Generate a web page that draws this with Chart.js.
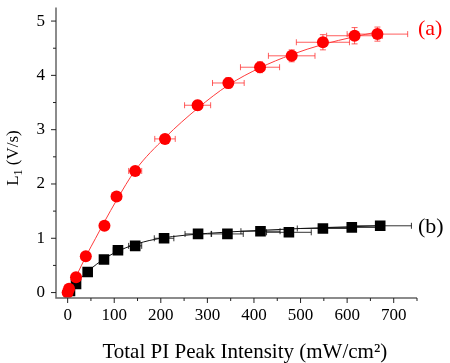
<!DOCTYPE html>
<html>
<head>
<meta charset="utf-8">
<script src="https://cdn.jsdelivr.net/npm/chart.js@4"></script>
<style>
  html, body { margin: 0; padding: 0; background: #fff; }
</style>
</head>
<body>
<canvas id="myChart" width="450" height="363"></canvas>
<script>
// series (a): red circles
const redX    = [0, 3, 18, 39, 79, 105, 145, 209, 279, 345, 413, 481, 548, 616, 665];
const redY    = [0.0, 0.07, 0.28, 0.67, 1.23, 1.77, 2.24, 2.83, 3.45, 3.86, 4.15, 4.36, 4.61, 4.73, 4.76];
const redXErr = [1, 1, 3, 5, 8, 10, 14, 22, 28, 34, 42, 50, 57, 60, 65];
const redYErr = [0.02, 0.02, 0.03, 0.04, 0.05, 0.06, 0.07, 0.08, 0.09, 0.1, 0.1, 0.11, 0.14, 0.15, 0.13];

// series (b): black squares
const blackX    = [5, 18, 43, 78, 108, 145, 207, 280, 343, 414, 475, 548, 610, 671];
const blackY    = [0.03, 0.16, 0.38, 0.61, 0.78, 0.86, 1.0, 1.08, 1.08, 1.13, 1.11, 1.18, 1.2, 1.23];
const blackXErr = [1, 2, 4, 7, 10, 14, 21, 28, 34, 42, 48, 55, 60, 67];
const blackYErr = [0.02, 0.02, 0.03, 0.03, 0.03, 0.04, 0.04, 0.04, 0.04, 0.04, 0.04, 0.05, 0.05, 0.05];

// fitted curves
const redFitX   = [0, 20, 40, 60, 80, 105, 145, 210, 280, 345, 413, 480, 548, 615, 665];
const redFitY   = [0, 0.33, 0.68, 1.0, 1.32, 1.7, 2.25, 2.86, 3.4, 3.82, 4.14, 4.38, 4.57, 4.71, 4.8];
const blackFitX = [0, 25, 50, 75, 100, 150, 200, 300, 400, 500, 600, 670];
const blackFitY = [0, 0.24, 0.44, 0.6, 0.73, 0.9, 1.0, 1.09, 1.14, 1.18, 1.21, 1.23];

// axis ticks
const xMajor = [0, 100, 200, 300, 400, 500, 600, 700];
const xMinor = [50, 150, 250, 350, 450, 550, 650, 750];
const yMajor = [0, 1, 2, 3, 4, 5];
const yMinor = [0.5, 1.5, 2.5, 3.5, 4.5];

const serif = '"Liberation Serif", "Times New Roman", serif';
const pts = (xs, ys) => xs.map((v, i) => ({ x: v, y: ys[i] }));

function errorBars(ctx, xs, ys, xe, ye, color, sx, sy) {
  ctx.save();
  ctx.strokeStyle = color;
  ctx.lineWidth = 1;
  ctx.beginPath();
  for (let i = 0; i < xs.length; i++) {
    const px = sx.getPixelForValue(xs[i]);
    const py = sy.getPixelForValue(ys[i]);
    const x0 = sx.getPixelForValue(xs[i] - xe[i]);
    const x1 = sx.getPixelForValue(xs[i] + xe[i]);
    const y0 = sy.getPixelForValue(ys[i] - ye[i]);
    const y1 = sy.getPixelForValue(ys[i] + ye[i]);
    ctx.moveTo(x0, py); ctx.lineTo(x1, py);
    ctx.moveTo(x0, py - 3); ctx.lineTo(x0, py + 3);
    ctx.moveTo(x1, py - 3); ctx.lineTo(x1, py + 3);
    ctx.moveTo(px, y0); ctx.lineTo(px, y1);
    ctx.moveTo(px - 3, y0); ctx.lineTo(px + 3, y0);
    ctx.moveTo(px - 3, y1); ctx.lineTo(px + 3, y1);
  }
  ctx.stroke();
  ctx.restore();
}

const decor = {
  id: 'decor',
  beforeDatasetsDraw(chart) {
    const { ctx, scales: { x, y } } = chart;
    errorBars(ctx, blackX, blackY, blackXErr, blackYErr, 'rgba(0,0,0,0.8)', x, y);
    errorBars(ctx, redX, redY, redXErr, redYErr, 'rgba(255,40,40,0.75)', x, y);
  },
  afterDraw(chart) {
    const { ctx, chartArea: a, scales: { x, y } } = chart;
    ctx.save();
    // axis lines
    ctx.strokeStyle = '#666';
    ctx.lineWidth = 1.5;
    ctx.beginPath();
    ctx.moveTo(a.left, a.top); ctx.lineTo(a.left, a.bottom); ctx.lineTo(a.right, a.bottom);
    ctx.stroke();
    // tick marks
    ctx.strokeStyle = '#222';
    ctx.lineWidth = 1;
    ctx.beginPath();
    xMajor.forEach(v => { const p = x.getPixelForValue(v); ctx.moveTo(p, a.bottom); ctx.lineTo(p, a.bottom + 5); });
    xMinor.forEach(v => { const p = x.getPixelForValue(v); ctx.moveTo(p, a.bottom); ctx.lineTo(p, a.bottom + 3); });
    yMajor.forEach(v => { const p = y.getPixelForValue(v); ctx.moveTo(a.left, p); ctx.lineTo(a.left - 5, p); });
    yMinor.forEach(v => { const p = y.getPixelForValue(v); ctx.moveTo(a.left, p); ctx.lineTo(a.left - 3, p); });
    ctx.stroke();

    // x title
    ctx.fillStyle = '#000';
    ctx.font = '21px ' + serif;
    ctx.textAlign = 'center';
    ctx.textBaseline = 'alphabetic';
    ctx.fillText('Total PI Peak Intensity (mW/cm²)', a.left + (a.right - a.left) * 0.523, 358);

    // y title, rotated, with subscript
    ctx.translate(14, 158);
    ctx.rotate(-Math.PI / 2);
    ctx.textAlign = 'left';
    ctx.textBaseline = 'middle';
    ctx.font = '17px ' + serif;
    const wL = ctx.measureText('L').width;
    const wRest = ctx.measureText(' (V/s)').width;
    ctx.font = '12px ' + serif;
    const wSub = ctx.measureText('1').width;
    const sx0 = -(wL + wSub + wRest) / 2;
    ctx.font = '17px ' + serif;
    ctx.fillText('L', sx0, 0);
    ctx.font = '12px ' + serif;
    ctx.fillText('1', sx0 + wL, 5);
    ctx.font = '17px ' + serif;
    ctx.fillText(' (V/s)', sx0 + wL + wSub, 0);
    ctx.restore();

    // series labels
    ctx.save();
    ctx.font = '22px ' + serif;
    ctx.textAlign = 'left';
    ctx.textBaseline = 'middle';
    ctx.fillStyle = '#ff0000';
    ctx.fillText('(a)', a.right + 1, y.getPixelForValue(4.85));
    ctx.fillStyle = '#000';
    ctx.fillText('(b)', a.right + 1, y.getPixelForValue(1.21));
    ctx.restore();
  }
};

new Chart(document.getElementById('myChart'), {
  type: 'scatter',
  data: {
    datasets: [
      {
        label: '(a)',
        data: pts(redX, redY),
        pointStyle: 'circle',
        pointRadius: 6,
        pointHoverRadius: 6,
        backgroundColor: '#ff0000',
        borderColor: '#ff0000',
        borderWidth: 0
      },
      {
        label: '(b)',
        data: pts(blackX, blackY),
        pointStyle: 'rect',
        pointRadius: 7.5,
        pointHoverRadius: 7.5,
        backgroundColor: '#000',
        borderColor: '#000',
        borderWidth: 0
      },
      {
        label: 'fit a',
        data: pts(redFitX, redFitY),
        showLine: true,
        pointRadius: 0,
        borderColor: '#ff3b3b',
        borderWidth: 1,
        cubicInterpolationMode: 'monotone'
      },
      {
        label: 'fit b',
        data: pts(blackFitX, blackFitY),
        showLine: true,
        pointRadius: 0,
        borderColor: '#111',
        borderWidth: 1,
        cubicInterpolationMode: 'monotone'
      }
    ]
  },
  options: {
    responsive: false,
    animation: false,
    events: [],
    layout: { padding: { top: 5, right: 33, left: 0, bottom: 0 } },
    plugins: {
      legend: { display: false },
      tooltip: { enabled: false }
    },
    scales: {
      x: {
        type: 'linear',
        min: -25,
        max: 750,
        grid: { display: false, drawTicks: false },
        border: { display: false },
        afterBuildTicks: s => { s.ticks = xMajor.map(v => ({ value: v })); },
        afterFit: s => { s.height = 65; s.paddingLeft = 0; s.paddingRight = 0; },
        ticks: { padding: 7, color: '#000', font: { family: serif, size: 17 } }
      },
      y: {
        type: 'linear',
        min: -0.1,
        max: 5.25,
        grid: { display: false, drawTicks: false },
        border: { display: false },
        afterBuildTicks: s => { s.ticks = yMajor.map(v => ({ value: v })); },
        afterFit: s => { s.width = 56; s.paddingTop = 0; s.paddingBottom = 0; },
        ticks: { padding: 11, color: '#000', font: { family: serif, size: 17 } }
      }
    }
  },
  plugins: [decor]
});
</script>
</body>
</html>
